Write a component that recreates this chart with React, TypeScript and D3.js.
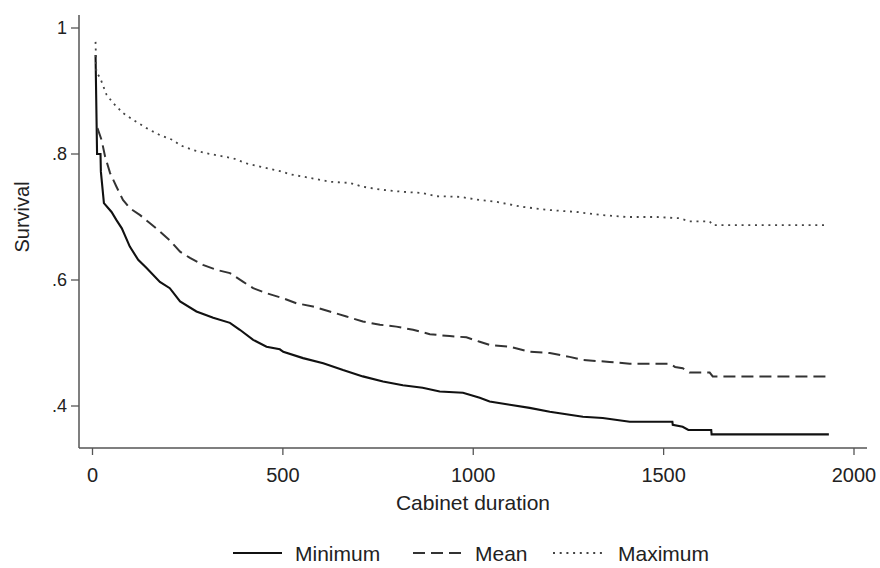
import React from "react";
import * as d3 from "d3";

// Kaplan–Meier style survival estimates: [duration, survival]
const minimumSeries: [number, number][] = [
  [8, 0.957], [12, 0.8], [21, 0.8], [22, 0.772], [30, 0.722], [50, 0.708], [63, 0.695],
  [77, 0.682], [98, 0.653], [120, 0.632], [142, 0.619], [177, 0.597], [203, 0.587],
  [230, 0.566], [273, 0.55], [317, 0.54], [361, 0.532], [387, 0.521], [422, 0.505],
  [457, 0.494], [492, 0.49], [501, 0.486], [553, 0.476], [606, 0.468], [658, 0.457],
  [710, 0.447], [763, 0.439], [815, 0.433], [867, 0.429], [912, 0.423], [973, 0.421],
  [1017, 0.413], [1043, 0.407], [1096, 0.402], [1148, 0.397], [1201, 0.391], [1253, 0.386],
  [1288, 0.383], [1340, 0.381], [1411, 0.375], [1523, 0.375], [1524, 0.37], [1550, 0.367],
  [1565, 0.362], [1625, 0.362], [1626, 0.355], [1934, 0.355],
];

const meanSeries: [number, number][] = [
  [13, 0.841], [24, 0.822], [33, 0.796], [46, 0.77], [63, 0.748], [80, 0.727], [98, 0.714],
  [125, 0.703], [151, 0.69], [177, 0.677], [203, 0.663], [230, 0.645], [256, 0.635],
  [290, 0.624], [326, 0.616], [361, 0.611], [396, 0.597], [422, 0.587], [457, 0.579],
  [501, 0.571], [536, 0.563], [579, 0.558], [623, 0.55], [667, 0.542], [710, 0.534],
  [755, 0.529], [798, 0.526], [842, 0.521], [886, 0.514], [938, 0.511], [982, 0.509],
  [1017, 0.502], [1043, 0.497], [1096, 0.494], [1148, 0.486], [1201, 0.484], [1253, 0.478],
  [1288, 0.473], [1358, 0.47], [1411, 0.467], [1516, 0.467], [1530, 0.462], [1550, 0.46],
  [1568, 0.453], [1621, 0.453], [1629, 0.447], [1930, 0.447],
];

const maximumSeries: [number, number][] = [
  [8, 0.978], [10, 0.93], [20, 0.921], [37, 0.894], [54, 0.881], [80, 0.865], [107, 0.854],
  [142, 0.841], [177, 0.83], [212, 0.822], [230, 0.814], [265, 0.806], [300, 0.801],
  [335, 0.797], [370, 0.793], [405, 0.785], [440, 0.78], [492, 0.773], [518, 0.768],
  [571, 0.762], [623, 0.756], [676, 0.754], [710, 0.748], [763, 0.743], [815, 0.74],
  [867, 0.738], [903, 0.733], [965, 0.732], [1017, 0.727], [1061, 0.724], [1130, 0.716],
  [1201, 0.711], [1271, 0.708], [1340, 0.703], [1402, 0.7], [1481, 0.7], [1542, 0.698],
  [1568, 0.693], [1621, 0.693], [1629, 0.687], [1930, 0.687],
];

const xTicks = [0, 500, 1000, 1500, 2000];
const yTicks = [0.4, 0.6, 0.8, 1];
const yTickLabels = [".4", ".6", ".8", "1"];
const legendLabels = ["Minimum", "Mean", "Maximum"];

const W = 880;
const H = 568;
const FONT = "Arial, 'Liberation Sans', sans-serif";

export default function App() {
  const x = d3.scaleLinear().domain([0, 2000]).range([92.5, 854]);
  const y = d3.scaleLinear().domain([0.4, 1]).range([406, 28]);
  const axisLeft = 79;
  const axisBottom = 448;
  const axisTop = 15;
  const axisRight = 867;

  const line = d3
    .line<[number, number]>()
    .x((d) => x(d[0]))
    .y((d) => y(d[1]))
    .curve(d3.curveLinear);

  const series = [
    { data: minimumSeries, stroke: "#111", width: 2.1, dash: "none" },
    { data: meanSeries, stroke: "#333", width: 2, dash: "12,6" },
    { data: maximumSeries, stroke: "#444", width: 1.8, dash: "2,4.7" },
  ];

  const legendItems = [
    { x1: 233, x2: 282, tx: 295 },
    { x1: 413, x2: 461, tx: 475 },
    { x1: 553, x2: 603, tx: 618 },
  ];

  return (
    <svg
      width={W}
      height={H}
      viewBox={`0 0 ${W} ${H}`}
      style={{ position: "absolute", left: 0, top: 0, background: "#fff" }}
    >
      <rect x={0} y={0} width={W} height={H} fill="#fff" />
      {/* axes */}
      <line x1={axisLeft} y1={axisTop} x2={axisLeft} y2={axisBottom} stroke="#555" strokeWidth={1.5} />
      <line x1={axisLeft} y1={axisBottom} x2={axisRight} y2={axisBottom} stroke="#555" strokeWidth={1.5} />
      {yTicks.map((t, i) => (
        <g key={"y" + t}>
          <line x1={axisLeft - 8} x2={axisLeft} y1={y(t)} y2={y(t)} stroke="#555" strokeWidth={1.3} />
          <text
            x={axisLeft - 12}
            y={y(t)}
            dy="0.35em"
            textAnchor="end"
            fontFamily={FONT}
            fontSize={18}
            fill="#222"
          >
            {yTickLabels[i]}
          </text>
        </g>
      ))}
      {xTicks.map((t) => (
        <g key={"x" + t}>
          <line x1={x(t)} x2={x(t)} y1={axisBottom} y2={axisBottom + 7} stroke="#555" strokeWidth={1.3} />
          <text x={x(t)} y={482} textAnchor="middle" fontFamily={FONT} fontSize={20} fill="#222">
            {t}
          </text>
        </g>
      ))}
      <text
        x={473}
        y={510}
        textAnchor="middle"
        fontFamily={FONT}
        fontSize={21}
        fill="#222"
      >
        Cabinet duration
      </text>
      <text
        transform={`translate(29,217) rotate(-90)`}
        textAnchor="middle"
        fontFamily={FONT}
        fontSize={20}
        fill="#222"
      >
        Survival
      </text>

      {/* curves */}
      {series.map((s, i) => (
        <path
          key={"s" + i}
          d={line(s.data) || ""}
          fill="none"
          stroke={s.stroke}
          strokeWidth={s.width}
          strokeDasharray={s.dash}
          strokeLinejoin="miter"
        />
      ))}

      {/* legend */}
      {legendItems.map((l, i) => (
        <g key={"l" + i}>
          <line
            x1={l.x1}
            x2={l.x2}
            y1={553}
            y2={553}
            stroke={series[i].stroke}
            strokeWidth={series[i].width}
            strokeDasharray={series[i].dash}
          />
          <text x={l.tx} y={561} fontFamily={FONT} fontSize={21} fill="#222">
            {legendLabels[i]}
          </text>
        </g>
      ))}
    </svg>
  );
}
